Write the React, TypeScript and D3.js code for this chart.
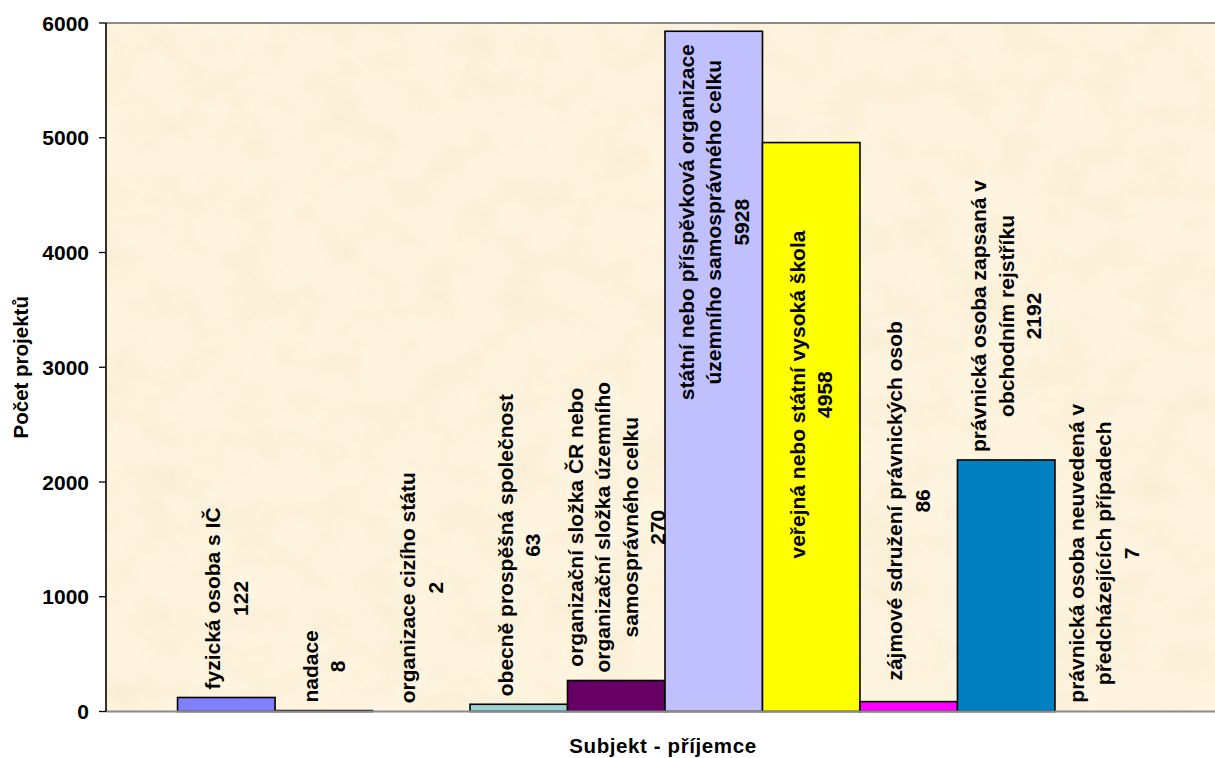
import React, { useEffect, useRef } from 'react';
import * as d3 from 'd3';

// ---------- data ----------
const categories = [
  'fyzická osoba s IČ',
  'nadace',
  'organizace cizího státu',
  'obecně prospěšná společnost',
  'organizační složka ČR nebo organizační složka územního samosprávného celku',
  'státní nebo příspěvková organizace územního samosprávného celku',
  'veřejná nebo státní vysoká škola',
  'zájmové sdružení právnických osob',
  'právnická osoba zapsaná v obchodním rejstříku',
  'právnická osoba neuvedená v předcházejících případech',
];
const categoryLines = [
  ['fyzická osoba s IČ'],
  ['nadace'],
  ['organizace cizího státu'],
  ['obecně prospěšná společnost'],
  ['organizační složka ČR nebo', 'organizační složka územního', 'samosprávného celku'],
  ['státní nebo příspěvková organizace', 'územního samosprávného celku'],
  ['veřejná nebo státní vysoká škola'],
  ['zájmové sdružení právnických osob'],
  ['právnická osoba zapsaná v', 'obchodním rejstříku'],
  ['právnická osoba neuvedená v', 'předcházejících případech'],
];
const values = [122, 8, 2, 63, 270, 5928, 4958, 86, 2192, 7];
const barColors = ['#8080FF', '#222222', '#FFFFCC', '#99D5D5', '#660066', '#C0C0FF', '#FFFF00', '#FF00FF', '#0080C0', '#000080'];
const yTicks = [0, 1000, 2000, 3000, 4000, 5000, 6000];
const yTitle = 'Počet projektů';
const xTitle = 'Subjekt - příjemce';

// ---------- layout ----------
const W = 1215;
const H = 758;
const M = { left: 106, right: 1224, top: 23, bottom: 711.5 };
const FONT = 'Arial, "Liberation Sans", Helvetica, sans-serif';
const FS = 21;
const LINE_H = 27.5;
const LABEL_GAP = 8;
const INSIDE_PAD = 13;
const MIN_BAR_PX = 0.85; // bars thinner than this are not drawn (as in the original render)
// manual nudges of some data labels (px, positive = down), as moved in the original
const labelNudge: Record<number, number> = { 6: 75, 7: -13 };

export default function App() {
  const ref = useRef<SVGSVGElement | null>(null);

  useEffect(() => {
    const svg = d3.select(ref.current);
    svg.selectAll('*').remove();

    const x = d3
      .scaleBand<string>()
      .domain(categories)
      .range([M.left, M.right])
      .paddingInner(0)
      .paddingOuter(0.734);
    const y = d3.scaleLinear().domain([0, 6000]).range([M.bottom, M.top]);

    const defs = svg.append('defs');
    const filt = defs
      .append('filter')
      .attr('id', 'paper')
      .attr('x', 0)
      .attr('y', 0)
      .attr('width', '100%')
      .attr('height', '100%');
    filt
      .append('feTurbulence')
      .attr('type', 'fractalNoise')
      .attr('baseFrequency', '0.022 0.028')
      .attr('numOctaves', 4)
      .attr('seed', 7)
      .attr('result', 'noise');
    filt
      .append('feColorMatrix')
      .attr('in', 'noise')
      .attr('type', 'matrix')
      .attr('values', '0 0 0 0 0.91  0 0 0 0 0.82  0 0 0 0 0.60  1.8 0 0 0 -0.78');

    // plot background
    svg
      .append('rect')
      .attr('x', M.left)
      .attr('y', M.top)
      .attr('width', M.right - M.left)
      .attr('height', M.bottom - M.top)
      .attr('fill', '#FEF4DF');
    svg
      .append('rect')
      .attr('x', M.left)
      .attr('y', M.top)
      .attr('width', M.right - M.left)
      .attr('height', M.bottom - M.top)
      .attr('fill', '#000')
      .attr('filter', 'url(#paper)')
      .attr('opacity', 0.75);

    // top border
    svg
      .append('line')
      .attr('x1', M.left)
      .attr('x2', M.right)
      .attr('y1', M.top)
      .attr('y2', M.top)
      .attr('stroke', '#8a8a8a')
      .attr('stroke-width', 2);

    // bars
    const bw = x.bandwidth();
    categories.forEach((c, i) => {
      const top = y(values[i]);
      const h = y(0) - top;
      if (h < MIN_BAR_PX) return;
      svg
        .append('rect')
        .attr('x', x(c)!)
        .attr('y', top)
        .attr('width', bw)
        .attr('height', h)
        .attr('fill', barColors[i])
        .attr('stroke', '#000')
        .attr('stroke-width', 1.6);
    });

    // x axis line
    svg
      .append('line')
      .attr('x1', M.left)
      .attr('x2', M.right)
      .attr('y1', M.bottom)
      .attr('y2', M.bottom)
      .attr('stroke', '#8a8a8a')
      .attr('stroke-width', 2);

    // y axis
    const yAxis = svg.append('g');
    yAxis
      .append('line')
      .attr('x1', M.left)
      .attr('x2', M.left)
      .attr('y1', M.top)
      .attr('y2', M.bottom)
      .attr('stroke', '#000')
      .attr('stroke-width', 1.6);
    yTicks.forEach((t) => {
      yAxis
        .append('line')
        .attr('x1', M.left - 7)
        .attr('x2', M.left)
        .attr('y1', y(t))
        .attr('y2', y(t))
        .attr('stroke', '#000')
        .attr('stroke-width', 1.3);
      yAxis
        .append('text')
        .attr('x', 89)
        .attr('y', y(t))
        .attr('text-anchor', 'end')
        .attr('dominant-baseline', 'central')
        .attr('font-family', FONT)
        .attr('font-weight', 'bold')
        .attr('font-size', FS)
        .attr('fill', '#000')
        .text(String(t));
    });

    // axis titles
    svg
      .append('text')
      .attr('transform', `translate(20,${(M.top + M.bottom) / 2}) rotate(-90)`)
      .attr('text-anchor', 'middle')
      .attr('dominant-baseline', 'central')
      .attr('font-family', FONT)
      .attr('font-weight', 'bold')
      .attr('font-size', 20.5)
      .text(yTitle);
    svg
      .append('text')
      .attr('x', (M.left + M.right) / 2 - 2)
      .attr('y', 753)
      .attr('text-anchor', 'middle')
      .attr('font-family', FONT)
      .attr('font-weight', 'bold')
      .attr('font-size', 20.5)
      .attr('letter-spacing', 0.6)
      .text(xTitle);

    // data labels (rotated)
    categories.forEach((c, i) => {
      const lines = [...categoryLines[i], String(values[i])];
      const n = lines.length;
      const cx = x(c)! + bw / 2;
      const g = svg.append('g');
      const texts = lines.map((t) =>
        g
          .append('text')
          .attr('text-anchor', 'middle')
          .attr('dominant-baseline', 'central')
          .attr('font-family', FONT)
          .attr('font-weight', 'bold')
          .attr('font-size', FS)
          .attr('fill', '#000')
          .text(t)
      );
      const L = d3.max(texts, (t) => (t.node() as SVGTextElement).getComputedTextLength()) || 0;
      const top = y(values[i]);
      let yc: number;
      if (top - LABEL_GAP - L < M.top + 20) yc = top + INSIDE_PAD + L / 2;
      else yc = top - LABEL_GAP - L / 2;
      yc += labelNudge[i] || 0;
      texts.forEach((t, k) => {
        const lx = cx + (k - (n - 1) / 2) * LINE_H;
        t.attr('transform', `translate(${lx},${yc}) rotate(-90)`);
      });
    });
  }, []);

  return (
    <svg
      ref={ref}
      width={W}
      height={H}
      style={{ position: 'absolute', left: 0, top: 0, background: '#fff', display: 'block' }}
    />
  );
}
